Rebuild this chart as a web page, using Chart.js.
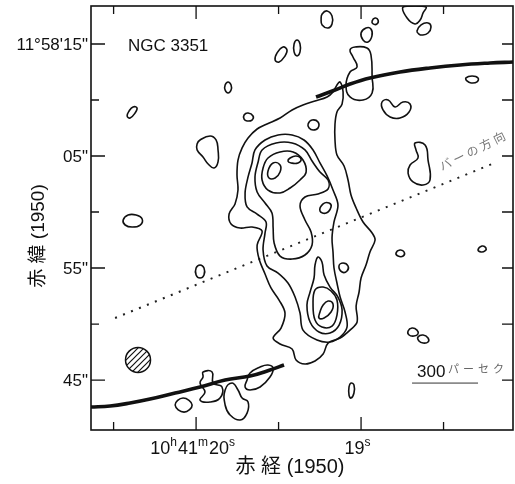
<!DOCTYPE html>
<html>
<head>
<meta charset="utf-8">
<script src="https://cdn.jsdelivr.net/npm/chart.js@4.4.0/dist/chart.umd.min.js"></script>
<style>
  html, body { margin: 0; padding: 0; background: #fff; }
  canvas { display: block; }
</style>
</head>
<body>
<canvas id="map" width="515" height="484"></canvas>
<script>
// RA in seconds of 10h41m, Dec in arcsec of 11°57'
var raMajor = [20, 19];
var raMinor = [20.5, 19.5, 18.5];
var raLabels = [[["10", "h"], ["41", "m"], ["20", "s"]], [["19", "s"]]];
var decMajor = [45, 55, 65, 75];
var decMinor = [50, 60, 70];
var decLabels = ['45"', '55"', '05"', "11°58'15\""];

// contours [ra, dec]
var outerContour = [
  [19.127,71.61],[19.109,70.72],[19.115,69.64],[19.146,68.93],[19.158,67.86],[19.158,66.43],[19.146,65.09],
  [19.103,64.11],[19.079,62.86],[19.061,61.52],[19.030,60.36],[18.988,59.11],[18.933,58.13],[18.915,57.50],
  [18.946,56.43],[18.970,55.27],[19.000,54.11],[19.012,52.86],[19.030,51.61],[19.024,50.18],[19.067,49.46],
  [19.127,48.75],[19.200,48.30],[19.230,47.32],[19.279,46.70],[19.340,46.43],[19.394,46.79],[19.418,47.77],
  [19.491,48.22],[19.533,48.75],[19.485,49.64],[19.461,50.98],[19.497,52.14],[19.546,53.22],[19.582,54.47],
  [19.618,55.80],[19.630,57.05],[19.600,58.30],[19.661,58.66],[19.733,58.57],[19.788,58.93],[19.800,59.82],
  [19.764,60.72],[19.746,61.96],[19.752,63.30],[19.746,64.64],[19.721,65.72],[19.685,66.61],[19.630,67.41],
  [19.570,67.86],[19.491,68.39],[19.418,69.11],[19.352,69.55],[19.279,69.91],[19.206,70.27],[19.170,70.72],
  [19.146,71.34]
];
var secondContour = [
  [19.503,66.88],[19.582,66.43],[19.643,65.54],[19.661,64.38],[19.685,63.13],[19.703,61.70],[19.691,60.45],
  [19.630,59.82],[19.576,59.11],[19.582,58.13],[19.594,56.61],[19.570,55.18],[19.503,54.55],[19.443,53.66],
  [19.400,52.41],[19.370,50.98],[19.352,49.46],[19.267,48.57],[19.188,48.39],[19.127,48.84],[19.085,49.73],
  [19.097,51.07],[19.127,52.41],[19.146,53.66],[19.164,55.00],[19.170,56.43],[19.176,57.68],[19.164,59.11],
  [19.140,60.63],[19.170,61.96],[19.206,63.22],[19.249,64.38],[19.291,65.54],[19.346,66.43],[19.418,66.88]
];
var northLobe = [
  [19.600,65.54],[19.624,64.47],[19.643,63.13],[19.630,61.79],[19.582,60.80],[19.540,59.91],[19.533,58.57],
  [19.527,57.23],[19.491,56.07],[19.418,55.80],[19.340,56.16],[19.297,57.05],[19.303,58.22],[19.340,59.29],
  [19.370,60.54],[19.340,61.34],[19.261,61.61],[19.200,62.05],[19.200,62.86],[19.249,63.57],[19.297,64.55],
  [19.340,65.54],[19.418,66.16],[19.515,66.16]
];
var northInner = [
  [19.564,64.82],[19.491,65.36],[19.412,65.36],[19.352,64.64],[19.333,63.57],[19.370,62.86],[19.430,62.14],
  [19.491,61.70],[19.564,61.96],[19.600,62.86],[19.594,63.93]
];
var northPeaks = [
  [[19.533,64.38],[19.491,64.20],[19.491,63.57],[19.521,63.04],[19.558,63.04],[19.564,63.66]],
  [[19.430,64.82],[19.394,65.00],[19.364,64.73],[19.382,64.38],[19.424,64.38],[19.443,64.55]]
];
var southOuter = [
  [19.261,55.98],[19.237,55.54],[19.224,54.38],[19.188,53.30],[19.140,52.41],[19.115,51.25],[19.133,49.91],
  [19.188,49.20],[19.255,49.29],[19.309,50.18],[19.328,51.70],[19.309,52.86],[19.285,54.11],[19.279,55.27]
];
var southMiddle = [
  [19.279,53.04],[19.230,53.30],[19.182,52.95],[19.146,52.14],[19.146,50.80],[19.176,49.82],[19.237,49.73],
  [19.279,50.36],[19.291,51.70]
];
var southPeak = [
  [19.249,51.07],[19.230,51.70],[19.200,52.05],[19.170,51.79],[19.182,51.07],[19.224,50.54],[19.255,50.54]
];
var islands = [
  [[19.134,55.18],[19.109,55.45],[19.079,55.18],[19.085,54.73],[19.115,54.64]],
  [[19.249,60.09],[19.230,60.72],[19.194,60.80],[19.182,60.45],[19.212,59.91]],
  [[19.806,71.61],[19.788,71.34],[19.788,70.89],[19.806,70.63],[19.824,70.89],[19.824,71.34]],
  [[20.382,69.38],[20.358,69.29],[20.370,68.84],[20.400,68.39],[20.418,68.57],[20.406,69.02]],
  [[19.709,68.66],[19.685,68.84],[19.655,68.57],[19.661,68.21],[19.691,68.13],[19.709,68.30]],
  [[19.976,66.43],[19.915,66.79],[19.879,66.43],[19.867,65.54],[19.867,64.47],[19.891,63.93],[19.927,64.29],
   [19.958,64.91],[19.994,65.54],[19.994,66.07]],
  [[20.442,59.29],[20.412,59.73],[20.364,59.73],[20.327,59.38],[20.339,58.84],[20.388,58.66],[20.430,58.84]],
  [[19.976,55.27],[19.952,55.00],[19.952,54.38],[19.976,54.11],[20.000,54.38],[20.000,55.00]],
  [[19.236,77.68],[19.206,77.95],[19.176,77.50],[19.176,76.79],[19.200,76.43],[19.236,76.70],[19.242,77.23]],
  [[18.933,77.05],[18.915,77.32],[18.897,77.14],[18.903,76.79],[18.927,76.79]],
  [[19.000,75.98],[18.970,76.43],[18.940,76.34],[18.934,75.72],[18.958,75.18],[18.988,75.36]],
  [[18.746,78.30],[18.721,77.32],[18.673,76.79],[18.642,77.14],[18.624,77.77],[18.606,78.30],[18.673,78.39]],
  [[18.661,76.16],[18.636,76.70],[18.594,76.88],[18.576,76.52],[18.594,75.98],[18.630,75.80],[18.649,75.89]],
  [[19.388,75.36],[19.370,75.00],[19.370,74.29],[19.388,73.93],[19.406,74.29],[19.406,75.00]],
  [[19.473,74.73],[19.449,74.46],[19.461,73.93],[19.497,73.39],[19.521,73.57],[19.509,74.20]],
  [[19.036,74.73],[18.964,74.64],[18.940,74.02],[18.933,72.05],[18.933,70.63],[18.988,70.00],[19.067,70.27],
   [19.091,71.34],[19.067,72.50],[19.024,72.95],[19.049,73.84],[19.067,74.46]],
  [[18.873,69.82],[18.836,70.00],[18.794,69.38],[18.746,69.82],[18.703,69.64],[18.709,68.93],[18.764,68.39],
   [18.824,68.48],[18.867,69.11]],
  [[18.364,71.97],[18.327,72.14],[18.291,71.97],[18.297,71.61],[18.333,71.52],[18.358,71.70]],
  [[19.321,67.86],[19.297,68.21],[19.261,68.04],[19.261,67.50],[19.291,67.32],[19.315,67.50]],
  [[18.673,66.16],[18.612,65.98],[18.594,64.64],[18.582,62.86],[18.624,62.41],[18.685,62.68],[18.715,63.48],
   [18.703,64.20],[18.655,64.82],[18.667,65.54]],
  [[18.788,56.34],[18.764,56.61],[18.739,56.43],[18.745,56.07],[18.776,56.07]],
  [[18.291,56.61],[18.267,56.96],[18.243,56.79],[18.249,56.52],[18.273,56.43]],
  [[18.715,49.38],[18.691,49.64],[18.661,49.46],[18.655,49.11],[18.679,48.93],[18.709,49.02]],
  [[18.655,48.84],[18.624,49.02],[18.594,48.75],[18.594,48.39],[18.624,48.30],[18.649,48.48]],
  [[19.061,44.73],[19.043,44.55],[19.043,43.84],[19.061,43.39],[19.073,43.66],[19.073,44.38]],
  [[20.127,42.77],[20.079,43.39],[20.024,42.77],[20.073,42.14]],
  [[19.958,45.72],[19.903,45.72],[19.897,44.73],[19.843,44.38],[19.855,43.39],[19.915,43.04],[19.976,43.21],
   [19.946,43.93],[19.976,44.73],[19.958,45.27]],
  [[19.824,44.11],[19.782,44.73],[19.746,44.11],[19.721,43.39],[19.685,43.04],[19.691,42.05],[19.733,41.43],
   [19.794,41.88],[19.824,42.77]],
  [[19.691,45.00],[19.673,45.63],[19.612,46.16],[19.564,46.34],[19.533,46.07],[19.552,45.27],[19.612,44.38],
   [19.673,44.11],[19.703,44.38]]
];

var armNorth = [[19.273,70.27],[19.158,70.89],[19.067,71.43],[18.946,71.97],[18.764,72.50],[18.582,72.86],
  [18.400,73.13],[18.218,73.30],[18.079,73.39]];
var armSouth = [[20.637,42.59],[20.521,42.68],[20.400,42.95],[20.279,43.30],[20.127,43.84],[19.976,44.38],
  [19.824,45.00],[19.673,45.36],[19.552,45.89],[19.467,46.34]];
var barAxis = [[20.491,50.54],[18.176,64.47]];
var scaleBar = [[18.691,44.73],[18.291,44.73]];
var beam = [[20.352,46.79]];

var INK = "#111";
var FONT = '"Liberation Sans", Arial, "Noto Sans CJK JP", sans-serif';

function pts(list) {
  return list.map(function (p) { return { x: p[0], y: p[1] }; });
}

// closed ring: pad with neighbours so the spline is smooth at the join, hide the padding segments
function ring(list, width, tension) {
  var n = list.length;
  var data = pts([list[n - 1]].concat(list, [list[0], list[1]]));
  var last = data.length - 1;
  return {
    data: data,
    showLine: true,
    borderColor: INK,
    borderWidth: width || 1.6,
    tension: tension == null ? 0.4 : tension,
    pointRadius: 0,
    segment: {
      borderColor: function (c) {
        return c.p0DataIndex === 0 || c.p1DataIndex === last ? "rgba(0,0,0,0)" : INK;
      },
    },
  };
}

function path(list, opts) {
  return Object.assign({ data: pts(list), showLine: true, borderColor: INK, pointRadius: 0, tension: 0.4 }, opts);
}

function hatch() {
  var c = document.createElement("canvas");
  c.width = 6;
  c.height = 6;
  var g = c.getContext("2d");
  g.strokeStyle = INK;
  g.lineWidth = 1.2;
  g.beginPath();
  g.moveTo(0, 6); g.lineTo(6, 0);
  g.moveTo(-1, 1); g.lineTo(1, -1);
  g.moveTo(5, 7); g.lineTo(7, 5);
  g.stroke();
  return g.createPattern(c, "repeat");
}

function supLabel(ctx, parts, cx, base) {
  var big = "18px " + FONT, small = "12px " + FONT, w = 0;
  parts.forEach(function (p) {
    ctx.font = big; w += ctx.measureText(p[0]).width;
    ctx.font = small; w += ctx.measureText(p[1]).width + 1;
  });
  var x = cx - w / 2;
  parts.forEach(function (p) {
    ctx.font = big; ctx.fillText(p[0], x, base); x += ctx.measureText(p[0]).width;
    ctx.font = small; ctx.fillText(p[1], x, base - 8); x += ctx.measureText(p[1]).width + 1;
  });
}

var mapFrame = {
  id: "mapFrame",
  afterDraw: function (chart) {
    var ctx = chart.ctx, a = chart.chartArea, xs = chart.scales.x, ys = chart.scales.y;
    ctx.save();
    ctx.strokeStyle = INK;
    ctx.lineWidth = 1.6;
    ctx.strokeRect(a.left, a.top, a.right - a.left, a.bottom - a.top);

    ctx.lineWidth = 1.3;
    ctx.beginPath();
    raMajor.concat(raMinor).forEach(function (v, i) {
      var px = xs.getPixelForValue(v), len = i < raMajor.length ? 13 : 8;
      ctx.moveTo(px, a.bottom); ctx.lineTo(px, a.bottom - len);
      ctx.moveTo(px, a.top); ctx.lineTo(px, a.top + len);
    });
    decMajor.concat(decMinor).forEach(function (v, i) {
      var py = ys.getPixelForValue(v), len = i < decMajor.length ? 14 : 8;
      ctx.moveTo(a.left, py); ctx.lineTo(a.left + len, py);
      ctx.moveTo(a.right, py); ctx.lineTo(a.right - 11, py);
    });
    ctx.stroke();

    ctx.fillStyle = INK;
    ctx.textAlign = "right";
    ctx.textBaseline = "middle";
    ctx.font = "17px " + FONT;
    decMajor.forEach(function (v, i) {
      ctx.fillText(decLabels[i], a.left - 3, ys.getPixelForValue(v) + 1.5);
    });

    ctx.textAlign = "left";
    ctx.textBaseline = "alphabetic";
    raMajor.forEach(function (v, i) {
      supLabel(ctx, raLabels[i], xs.getPixelForValue(v) - 3, 454);
    });

    ctx.font = "17px " + FONT;
    ctx.fillText("NGC 3351", 128, 51);

    // axis titles
    ctx.textAlign = "center";
    ctx.font = "20px " + FONT;
    ctx.fillText("赤 経 (1950)", 290, 473);
    ctx.save();
    ctx.translate(44, 236);
    ctx.rotate(-Math.PI / 2);
    ctx.font = "19px " + FONT;
    ctx.fillText("赤 緯 (1950)", 0, 0);
    ctx.restore();

    // scale bar label
    ctx.textAlign = "left";
    ctx.font = "17px " + FONT;
    ctx.fillText("300", 417, 377);
    ctx.fillStyle = "#666";
    ctx.font = '11px "Noto Sans CJK JP", sans-serif';
    ctx.letterSpacing = "4px";
    ctx.fillText("パーセク", 448, 373);

    // bar direction label
    ctx.save();
    ctx.translate(442, 171);
    ctx.rotate(-0.46);
    ctx.fillStyle = "#777";
    ctx.font = '12px "Noto Sans CJK JP", sans-serif';
    ctx.letterSpacing = "3px";
    ctx.fillText("バーの方向", 0, 0);
    ctx.restore();
    ctx.restore();
  },
};

var datasets = [
  ring(outerContour, 1.6, 0.35),
  ring(secondContour, 1.6, 0.35),
  ring(northLobe, 1.6, 0.35),
  ring(northInner, 1.6, 0.4),
  ring(southOuter, 1.6, 0.4),
  ring(southMiddle, 1.6, 0.4),
  ring(southPeak, 1.6, 0.45),
];
northPeaks.concat(islands).forEach(function (b) {
  datasets.push(ring(b, 1.6, 0.45));
});
datasets.push(path(armNorth, { borderWidth: 3.6 }));
datasets.push(path(armSouth, { borderWidth: 3.6 }));
datasets.push(path(barAxis, { borderWidth: 2, borderDash: [2, 6.6], tension: 0, borderColor: "#222" }));
datasets.push(path(scaleBar, { borderWidth: 1, tension: 0, borderColor: "#333" }));
datasets.push({
  data: pts(beam),
  pointRadius: 12.5,
  pointStyle: "circle",
  backgroundColor: hatch(),
  borderColor: INK,
  borderWidth: 1.5,
});

new Chart(document.getElementById("map"), {
  type: "scatter",
  data: { datasets: datasets },
  options: {
    responsive: false,
    animation: false,
    events: [],
    layout: { autoPadding: false, padding: { left: 91, top: 6, right: 2, bottom: 54 } },
    plugins: { legend: { display: false }, tooltip: { enabled: false } },
    scales: {
      x: { type: "linear", display: false, reverse: true, min: 18.079, max: 20.637 },
      y: { type: "linear", display: false, min: 40.54, max: 78.39 },
    },
  },
  plugins: [mapFrame],
});
</script>
</body>
</html>
